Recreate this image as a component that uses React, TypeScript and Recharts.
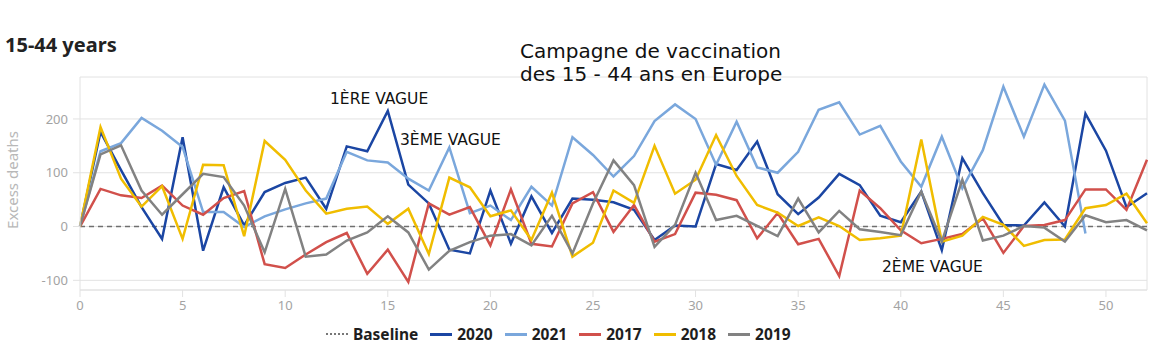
import React from 'react';
import {
  LineChart,
  Line,
  XAxis,
  YAxis,
  CartesianGrid,
  ReferenceLine,
} from 'recharts';

const weeks = [
  0, 1, 2, 3, 4, 5, 6, 7, 8, 9, 10, 11, 12, 13, 14, 15, 16, 17, 18, 19, 20,
  21, 22, 23, 24, 25, 26, 27, 28, 29, 30, 31, 32, 33, 34, 35, 36, 37, 38, 39,
  40, 41, 42, 43, 44, 45, 46, 47, 48, 49, 50, 51, 52,
];

const deaths2020 = [
  0, 176, 105, 36, -23, 166, -45, 73, 2, 64, 81, 91, 33, 149, 140, 215, 78,
  43, -43, -50, 67, -32, 56, -12, 52, 50, 45, 31, -25, 2, 0, 116, 105, 158,
  60, 23, 54, 98, 77, 20, 8, 65, -44, 127, 62, 3, 2, 45, 0, 210, 141, 36, 62,
];

const deaths2021 = [
  0, 140, 155, 202, 178, 148, 27, 27, -1, 19, 32, 43, 52, 139, 123, 119, 89,
  67, 147, 25, 39, 12, 74, 39, 166, 133, 93, 131, 196, 227, 200, 115, 195,
  110, 100, 139, 217, 231, 171, 187, 121, 74, 167, 71, 142, 260, 167, 264,
  197, -13, null, null, null,
];

const deaths2017 = [
  0, 70, 58, 53, 76, 39, 22, 53, 66, -70, -77, -52, -29, -12, -88, -43, -103,
  43, 22, 36, -35, 69, -32, -37, 43, 64, -10, 40, -28, -14, 63, 59, 49, -22,
  25, -33, -23, -92, 67, 34, -7, -31, -23, -14, 15, -49, 1, 3, 12, 69, 69, 31,
  124,
];

const deaths2018 = [
  0, 185, 89, 37, 75, -23, 115, 114, -18, 159, 124, 67, 24, 33, 37, 5, 33,
  -51, 91, 73, 19, 30, -25, 63, -56, -30, 67, 44, 150, 61, 87, 170, 94, 40,
  26, 1, 17, 1, -25, -22, -17, 162, -28, -17, 18, 3, -36, -25, -24, 34, 40, 61,
  6,
];

const deaths2019 = [
  0, 134, 151, 67, 22, 60, 98, 92, 39, -48, 70, -56, -52, -26, -11, 19, -11,
  -80, -45, -29, -17, -14, -35, 20, -50, 43, 123, 77, -38, 3, 100, 12, 20, 1,
  -18, 52, -11, 29, -5, -10, -16, 65, -28, 87, -26, -17, 1, -2, -28, 21, 8, 12,
  -7,
];

const xTicks = [0, 5, 10, 15, 20, 25, 30, 35, 40, 45, 50];
const yTicks = [-100, 0, 100, 200];

const series = [
  { key: 'y2020', name: '2020', color: '#1b46a3' },
  { key: 'y2021', name: '2021', color: '#7aa7dc' },
  { key: 'y2017', name: '2017', color: '#d1504b' },
  { key: 'y2018', name: '2018', color: '#f0bd00' },
  { key: 'y2019', name: '2019', color: '#828282' },
];

const chartData = weeks.map((w, i) => ({
  week: w,
  y2020: deaths2020[i],
  y2021: deaths2021[i],
  y2017: deaths2017[i],
  y2018: deaths2018[i],
  y2019: deaths2019[i],
}));

const uiFont = '"Noto Sans", Roboto, sans-serif';
const noteFont = '"DejaVu Sans", sans-serif';
const gridColor = '#e2e2e2';
const tickStyle = { fill: '#a3a3a3', fontSize: 13, fontFamily: uiFont };

export default function App() {
  return (
    <div
      style={{
        position: 'absolute',
        left: 0,
        top: 0,
        width: 1156,
        height: 347,
        background: '#fff',
        fontFamily: uiFont,
      }}
    >
      <LineChart
        width={1156}
        height={347}
        data={chartData}
        margin={{ top: 77, right: 9, left: 20, bottom: 27 }}
      >
        <CartesianGrid stroke={gridColor} vertical={false} />
        <XAxis
          dataKey="week"
          type="number"
          domain={[0, 52]}
          ticks={xTicks}
          stroke={gridColor}
          tickSize={7}
          tickMargin={4}
          tick={tickStyle}
          height={30}
        />
        <YAxis
          type="number"
          domain={[-118, 278]}
          ticks={yTicks}
          stroke={gridColor}
          tickSize={7}
          tickMargin={5}
          tick={tickStyle}
          width={60}
          allowDataOverflow
        />
        <ReferenceLine x={52} stroke={gridColor} />
        <ReferenceLine y={0} stroke="#6f6f6f" strokeWidth={1.5} strokeDasharray="5 4" />
        {series.map((s) => (
          <Line
            key={s.key}
            dataKey={s.key}
            name={s.name}
            stroke={s.color}
            strokeWidth={2.5}
            dot={false}
            activeDot={false}
            type="linear"
            isAnimationActive={false}
          />
        ))}
      </LineChart>

      <div
        style={{
          position: 'absolute',
          left: 5,
          top: 31,
          fontSize: 20,
          fontWeight: 700,
          color: '#222',
        }}
      >
        15-44 years
      </div>

      <div
        style={{
          position: 'absolute',
          left: 12,
          top: 180,
          transform: 'translate(-50%, -50%) rotate(-90deg)',
          whiteSpace: 'nowrap',
          fontSize: 15,
          color: '#b8b8b8',
        }}
      >
        Excess deaths
      </div>

      <div
        style={{
          position: 'absolute',
          left: 520,
          top: 40,
          fontFamily: noteFont,
          fontSize: 20,
          lineHeight: '23px',
          color: '#111',
        }}
      >
        Campagne de vaccination
        <br />
        des 15 - 44 ans en Europe
      </div>

      <div style={{ position: 'absolute', left: 330, top: 90, fontFamily: noteFont, fontSize: 15.5, color: '#111' }}>
        1ÈRE VAGUE
      </div>
      <div style={{ position: 'absolute', left: 400, top: 131, fontFamily: noteFont, fontSize: 15.5, color: '#111' }}>
        3ÈME VAGUE
      </div>
      <div style={{ position: 'absolute', left: 882, top: 258, fontFamily: noteFont, fontSize: 15.5, color: '#111' }}>
        2ÈME VAGUE
      </div>

      <div
        style={{
          position: 'absolute',
          left: 326,
          top: 323,
          display: 'flex',
          alignItems: 'center',
          fontSize: 15.5,
          fontWeight: 700,
          color: '#1e1e1e',
        }}
      >
        <span
          style={{
            display: 'inline-block',
            width: 22,
            borderTop: '2px dotted #777',
            marginRight: 5,
          }}
        />
        <span style={{ marginRight: 12 }}>Baseline</span>
        {series.map((s) => (
          <React.Fragment key={s.key}>
            <span
              style={{
                display: 'inline-block',
                width: 22,
                height: 3,
                background: s.color,
                marginRight: 5,
              }}
            />
            <span style={{ marginRight: 12 }}>{s.name}</span>
          </React.Fragment>
        ))}
      </div>
    </div>
  );
}
